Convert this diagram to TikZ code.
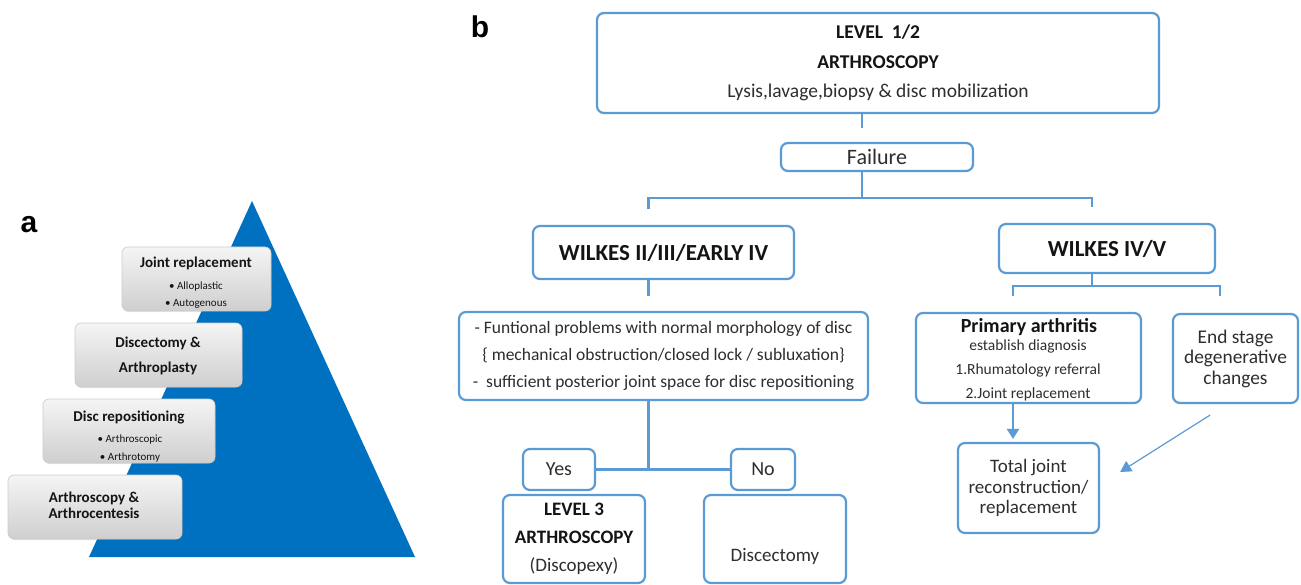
\documentclass[tikz,border=0pt]{standalone}
\usepackage{fontspec}
\setmainfont{Carlito}
\newfontfamily\labfont{Liberation Sans}
\usetikzlibrary{arrows.meta,calc,shadows}
\definecolor{lb}{HTML}{5B9BD5}
\definecolor{tri}{HTML}{0070C0}
\definecolor{txt}{HTML}{2E2E2E}
\definecolor{dk}{HTML}{141414}
\newcommand{\fs}[2]{\fontsize{#1}{#2}\selectfont}
\begin{document}
\begin{tikzpicture}[x=1pt,y=-1pt,
  bbox/.style={draw=lb, line width=2.2pt, rounded corners=7pt, fill=white, inner sep=0pt, align=center, text=txt},
  gbox/.style={draw=gray!40, line width=0.6pt, rounded corners=6pt, top color=gray!8, bottom color=gray!38, inner sep=0pt,
    drop shadow={opacity=0.18, shadow xshift=1.2pt, shadow yshift=-1.2pt}},
  gtitle/.style={anchor=base, font=\bfseries\fs{15}{18}, text=dk},
  gbul/.style={anchor=base, font=\fs{11}{13}, text=dk},
  conn/.style={draw=lb, line width=2.2pt},
  arr/.style={conn, -{Triangle[width=12pt,length=10pt]}},
  arrthin/.style={draw=lb, line width=1.2pt, -{Triangle[width=12pt,length=11pt]}},
  lab/.style={anchor=base, font=\labfont\bfseries\fs{30}{32}}
]
\useasboundingbox (0,0) rectangle (1301,585);
\fill[white] (0,0) rectangle (1301,585);

% ---------- panel a ----------
\node[lab] (la) at (29,233) {a};
\fill[tri] (252,201) -- (415,557) -- (89,557) -- cycle;

\node[gbox, minimum width=149pt, minimum height=64pt] (jr) at (196.5,279) {};
\node[gtitle] (jrt) at (196,268) {Joint replacement};
\node[gbul] (jr1) at (196,290) {• Alloplastic};
\node[gbul] (jr2) at (196,307) {• Autogenous};

\node[gbox, minimum width=167pt, minimum height=64pt] (da) at (158.5,355) {};
\node[gtitle] (dat1) at (158,347) {Discectomy \&};
\node[gtitle] (dat2) at (158,372) {Arthroplasty};

\node[gbox, minimum width=172pt, minimum height=64pt] (dr) at (129,431) {};
\node[gtitle] (drt) at (129,421) {Disc repositioning};
\node[gbul] (dr1) at (130,442) {• Arthroscopic};
\node[gbul] (dr2) at (130,460) {• Arthrotomy};

\node[gbox, minimum width=174pt, minimum height=64pt] (aa) at (95,507) {};
\node[gtitle] (aat1) at (94,502) {Arthroscopy \&};
\node[gtitle] (aat2) at (94,518) {Arthrocentesis};

% ---------- panel b ----------
\node[lab] (lbb) at (480,38) {b};

\node[bbox, minimum width=562pt, minimum height=100pt, font=\fs{19.5}{29.5}] (top) at (878,63)
  {\textcolor{dk}{\bfseries LEVEL\ \ 1/2}\\\textcolor{dk}{\bfseries ARTHROSCOPY}\\Lysis,lavage,biopsy \& disc mobilization};
\node[bbox, minimum width=192pt, minimum height=28pt, font=\fs{22}{24}] (fail) at (877,157) {Failure};

\node[bbox, minimum width=261pt, minimum height=53pt, font=\bfseries\fs{23}{25}, text=dk] (wl) at (663.5,252.5) {WILKES II/III/EARLY IV};
\node[bbox, minimum width=216pt, minimum height=49pt, font=\bfseries\fs{23}{25}, text=dk] (wr) at (1107,248.5) {WILKES IV/V};

\node[bbox, minimum width=409pt, minimum height=88pt, font=\fs{17.5}{27}] (txt) at (663.5,356)
  {- Funtional problems with normal morphology of disc\\\{ mechanical obstruction/closed lock / subluxation\}\\-\ \ sufficient posterior joint space for disc repositioning};

\node[bbox, minimum width=72pt, minimum height=41pt, font=\fs{20}{22}] (yes) at (559,469.5) {Yes};
\node[bbox, minimum width=64pt, minimum height=41pt, font=\fs{20}{22}] (no) at (763,469.5) {No};

\node[bbox, minimum width=142pt, minimum height=88pt, font=\fs{19}{28}] (l3) at (574,539)
  {\textcolor{dk}{\bfseries LEVEL 3}\\\textcolor{dk}{\bfseries ARTHROSCOPY}\\(Discopexy)};
\node[bbox, minimum width=142pt, minimum height=88pt] (dis) at (775,539) {};
\node[anchor=base, font=\fs{19}{21}, text=txt] (dist) at (775,561) {Discectomy};

\node[bbox, minimum width=225pt, minimum height=90pt] (pa) at (1028.5,358) {};
\node[anchor=base, font=\bfseries\fs{20}{22}, text=dk] (pat) at (1029,332.5) {Primary arthritis};
\node[anchor=base, font=\fs{15.5}{17}, text=txt] (pa1) at (1028,350.5) {establish diagnosis};
\node[anchor=base, font=\fs{15.5}{17}, text=txt] (pa2) at (1028,374.5) {1.Rhumatology referral};
\node[anchor=base, font=\fs{15.5}{17}, text=txt] (pa3) at (1028,398.5) {2.Joint replacement};

\node[bbox, minimum width=125pt, minimum height=89pt, font=\fs{19.4}{20.5}] (es) at (1235.5,358.5)
  {End stage\\degenerative\\changes};
\node[bbox, minimum width=141pt, minimum height=90pt, font=\fs{19}{20.5}] (tj) at (1028.5,488)
  {Total joint\\reconstruction/\\replacement};

% ---------- connectors ----------
\draw[conn] ([xshift=-16]top.south) -- ([xshift=-16,yshift=-14]top.south);
\coordinate (fbar) at ($(fail.south)+(-15,26)$);
\coordinate (barL) at ([xshift=-15,yshift=16]wl.north);
\coordinate (barR) at ([xshift=-15,yshift=16]wr.north);
\draw[conn] ([xshift=-15]fail.south) -- (fbar);
\draw[conn] (barL) |- (fbar) -| (barR);

\draw[conn] ([xshift=-15]wl.south) -- ([xshift=-15,yshift=-16]wl.south);
\draw[conn] ([xshift=-15]txt.south) -- ([xshift=-15]txt.south |- yes.east);
\draw[conn] (yes.east) -- (no.west);

\coordinate (wbar) at ($(wr.south)+(-15,12)$);
\coordinate (pL) at ([xshift=-15.5,yshift=16]pa.north);
\coordinate (eR) at ([xshift=-15.5,yshift=17]es.north);
\draw[conn] ([xshift=-15]wr.south) -- (wbar);
\draw[conn] (pL) |- (wbar) -| (eR);

\draw[arr, shorten >=3pt] ([xshift=-15.5]pa.south) -- ([xshift=-15.5]tj.north);
\coordinate (dstart) at ([xshift=-25.5,yshift=-11]es.south);
\coordinate (dend) at ([xshift=20,yshift=16]tj.east);
\draw[arrthin] (dstart) -- (dend);
\end{tikzpicture}
\end{document}
